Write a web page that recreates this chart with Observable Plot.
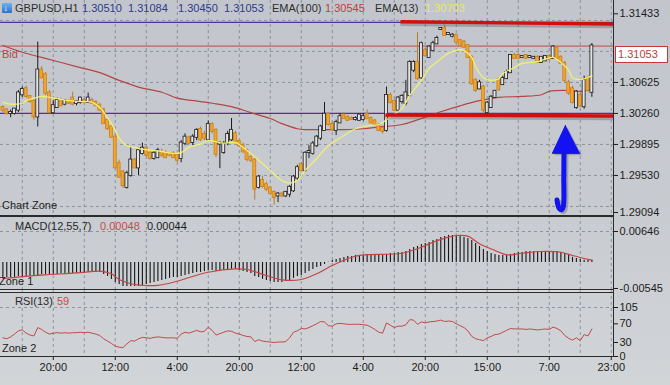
<!DOCTYPE html>
<html><head><meta charset="utf-8">
<script src="https://cdn.jsdelivr.net/npm/d3@7"></script>
<script src="https://cdn.jsdelivr.net/npm/@observablehq/plot@0.6"></script>
<style>
html,body{margin:0;padding:0;}
body{width:670px;height:385px;overflow:hidden;font-family:"Liberation Sans",Arial,sans-serif;}
#wrap{position:relative;width:670px;height:385px;overflow:hidden;background:linear-gradient(180deg,#c2c6cc 0%,#c8cbd0 55%,#d2d5d8 100%);}
.pl{position:absolute;left:0;}
.lbl{position:absolute;font-size:11px;white-space:nowrap;line-height:13px;color:#1e1e1e;}
.ln{position:absolute;background:#2b2b2b;}
</style></head><body><div id="wrap"></div>
<script>
// ---------- DATA ----------
const opens = [1.3033,1.3030,1.3026,1.3026,1.3030,1.3048,1.3055,1.3046,1.3040,1.3022,
1.3077,1.3072,1.3050,1.3027,1.3033,1.3041,1.3037,1.3040,1.3044,1.3038,
1.3039,1.3041,1.3039,1.3041,1.3039,1.3035,1.3030,1.3018,1.3010,1.2998,
1.2967,1.2957,1.2939,1.2953,1.2971,1.2962,1.2979,1.2985,1.2979,1.2973,
1.2974,1.2980,1.2980,1.2978,1.2979,1.2977,1.2973,1.2991,1.2997,1.2992,
1.2998,1.3007,1.3001,1.2995,1.3013,1.3006,1.2990,1.2980,1.2991,1.2995,
1.3002,1.2993,1.2988,1.2982,1.2974,1.2971,1.2939,1.2947,1.2942,1.2938,
1.2933,1.2929,1.2931,1.2929,1.2931,1.2935,1.2950,1.2966,1.2959,1.2980,
1.2979,1.2988,1.2997,1.3006,1.3025,1.3013,1.3006,1.3015,1.3024,1.3021,
1.3020,1.3019,1.3018,1.3019,1.3025,1.3020,1.3017,1.3012,1.3008,1.3006,
1.3047,1.3040,1.3030,1.3040,1.3038,1.3047,1.3077,1.3086,1.3068,1.3100,
1.3092,1.3100,1.3108,1.3125,1.3126,1.3119,1.3117,1.3118,1.3112,1.3110,
1.3106,1.3092,1.3065,1.3055,1.3057,1.3027,1.3033,1.3045,1.3066,1.3060,
1.3067,1.3074,1.3094,1.3094,1.3092,1.3094,1.3092,1.3091,1.3092,1.3086,
1.3088,1.3093,1.3091,1.3103,1.3092,1.3085,1.3062,1.3055,1.3033,1.3047,
1.3034,1.3067,1.30510];
const highs = [1.3035,1.3032,1.3030,1.3032,1.3053,1.3057,1.3058,1.3047,1.3042,1.3110,
1.3081,1.3074,1.3053,1.3041,1.3044,1.3044,1.3042,1.3042,1.3051,1.3041,
1.3045,1.3044,1.3050,1.3044,1.3041,1.3038,1.3032,1.3020,1.3012,1.3001,
1.2971,1.2959,1.2958,1.2986,1.2973,1.2985,1.2991,1.2987,1.2981,1.2981,
1.2985,1.2984,1.2982,1.2980,1.2981,1.2979,1.2994,1.3002,1.2999,1.3001,
1.3008,1.3010,1.3005,1.3017,1.3015,1.3008,1.2992,1.2993,1.3005,1.3020,
1.3005,1.2994,1.2991,1.2984,1.2977,1.2973,1.2953,1.2952,1.2945,1.2940,
1.2935,1.2933,1.2933,1.2934,1.2941,1.2953,1.2965,1.2968,1.2981,1.2988,
1.2993,1.3000,1.3012,1.3039,1.3027,1.3015,1.3018,1.3026,1.3027,1.3024,
1.3022,1.3022,1.3025,1.3026,1.3030,1.3022,1.3019,1.3014,1.3011,1.3057,
1.3050,1.3042,1.3046,1.3048,1.3065,1.3088,1.3088,1.3121,1.3110,1.3103,
1.3106,1.3111,1.3117,1.3127,1.3130,1.3121,1.3120,1.3119,1.3113,1.3112,
1.3107,1.3094,1.3067,1.3065,1.3059,1.3040,1.3047,1.3053,1.3068,1.3070,
1.3077,1.3095,1.3097,1.3097,1.3094,1.3095,1.3094,1.3093,1.3094,1.3093,
1.3094,1.3094,1.3106,1.3105,1.3094,1.3087,1.3065,1.3058,1.3053,1.3050,
1.3070,1.3070,1.31084];
const lows = [1.3027,1.3024,1.3021,1.3024,1.3027,1.3045,1.3044,1.3038,1.3018,1.3010,
1.3067,1.3047,1.3026,1.3026,1.3032,1.3034,1.3035,1.3037,1.3035,1.3035,
1.3037,1.3038,1.3038,1.3037,1.3034,1.3028,1.3013,1.3006,1.2997,1.2961,
1.2950,1.2938,1.2937,1.2951,1.2961,1.2953,1.2977,1.2975,1.2971,1.2971,
1.2973,1.2974,1.2973,1.2975,1.2973,1.2968,1.2968,1.2988,1.2990,1.2988,
1.2994,1.2993,1.2994,1.2993,1.3002,1.2974,1.2961,1.2978,1.2988,1.2993,
1.2991,1.2986,1.2979,1.2969,1.2968,1.2924,1.2937,1.2938,1.2934,1.2931,
1.2918,1.2921,1.2927,1.2927,1.2927,1.2933,1.2947,1.2957,1.2957,1.2973,
1.2977,1.2986,1.2994,1.3005,1.3011,1.3005,1.3000,1.3014,1.3019,1.3017,
1.3018,1.3017,1.3017,1.3017,1.3019,1.3014,1.3011,1.3005,1.3002,1.3004,
1.3037,1.3028,1.3027,1.3037,1.3035,1.3045,1.3074,1.3065,1.3066,1.3093,
1.3091,1.3099,1.3107,1.3124,1.3117,1.3118,1.3115,1.3108,1.3105,1.3103,
1.3091,1.3059,1.3051,1.3054,1.3027,1.3025,1.3032,1.3044,1.3052,1.3059,
1.3066,1.3073,1.3090,1.3090,1.3091,1.3090,1.3091,1.3090,1.3085,1.3085,
1.3087,1.3088,1.3090,1.3090,1.3084,1.3062,1.3047,1.3037,1.3031,1.3033,
1.3031,1.3051,1.30450];
const closes = [1.3030,1.3026,1.3027,1.3031,1.3050,1.3054,1.3046,1.3040,1.3022,1.3077,
1.3068,1.3050,1.3027,1.3035,1.3041,1.3035,1.3041,1.3038,1.3037,1.3040,
1.3044,1.3039,1.3044,1.3038,1.3035,1.3030,1.3014,1.3008,1.2998,1.2962,
1.2951,1.2941,1.2955,1.2971,1.2962,1.2982,1.2985,1.2977,1.2973,1.2979,
1.2982,1.2977,1.2974,1.2977,1.2974,1.2971,1.2991,1.2998,1.2991,1.2998,
1.3006,1.2995,1.2997,1.3013,1.3005,1.2978,1.2991,1.2990,1.3001,1.3006,
1.2993,1.2988,1.2981,1.2972,1.2971,1.2937,1.2951,1.2940,1.2937,1.2932,
1.2927,1.2931,1.2929,1.2933,1.2939,1.2951,1.2962,1.2959,1.2979,1.2981,
1.2990,1.2998,1.3010,1.3025,1.3013,1.3007,1.3015,1.3022,1.3020,1.3018,
1.3019,1.3020,1.3024,1.3022,1.3020,1.3015,1.3012,1.3006,1.3005,1.3047,
1.3039,1.3030,1.3044,1.3046,1.3050,1.3086,1.3086,1.3067,1.3108,1.3094,
1.3104,1.3108,1.3114,1.3126,1.3118,1.3120,1.3118,1.3110,1.3106,1.3104,
1.3092,1.3061,1.3053,1.3062,1.3030,1.3038,1.3045,1.3052,1.3054,1.3067,
1.3074,1.3094,1.3091,1.3091,1.3093,1.3091,1.3093,1.3092,1.3086,1.3092,
1.3093,1.3090,1.3104,1.3091,1.3085,1.3065,1.3050,1.3039,1.3051,1.3035,
1.3065,1.3053,1.31053];

// EMA(13) and EMA(100): [bar, value]
const ema13 = [[0,1.3039],[2,1.3037],[5,1.3038],[6,1.3041],[8,1.3044],[10,1.3046],[12,1.3045],[17,1.3041],[21,1.3040],[23,1.3039],[25,1.3033],[27,1.3021],[29,1.3006],[30,1.2997],[32,1.2988],[34,1.2986],[36,1.2984],[40,1.2982],[44,1.2979],[46,1.2980],[48,1.2986],[51,1.2990],[53,1.2994],[57,1.2991],[60,1.2992],[62,1.2986],[66,1.2971],[69,1.2959],[72,1.2947],[74,1.2944],[76,1.2947],[78,1.2959],[81,1.2973],[84,1.2988],[88,1.3000],[91,1.3008],[95,1.3012],[97,1.3013],[100,1.3022],[103,1.3032],[105,1.3047],[108,1.3065],[110,1.3079],[113,1.3090],[115,1.3097],[118,1.3101],[119,1.3100],[121,1.3092],[122,1.3081],[124,1.3068],[126,1.3065],[128,1.3067],[129,1.3073],[132,1.3080],[134,1.3085],[138,1.3087],[140,1.3090],[142,1.3092],[144,1.3086],[146,1.3077],[147,1.3068],[149,1.3066],[152,1.30703]];
const ema100 = [[0,1.3106],[5,1.3098],[10,1.3092],[15,1.3086],[20,1.3080],[25,1.3074],[30,1.3065],[35,1.3057],[41,1.3051],[45,1.3044],[51,1.3040],[54,1.3038],[59,1.3034],[64,1.3027],[69,1.3020],[72,1.3014],[76,1.3008],[78,1.3007],[83,1.3007],[88,1.3007],[93,1.3008],[97,1.3010],[103,1.3013],[108,1.3020],[113,1.3028],[118,1.3035],[123,1.3041],[128,1.3045],[134,1.3046],[139,1.3048],[141,1.3052],[146,1.3053],[149,1.3052],[152,1.30545]];

// MACD(12,55,7)
const macdHist = [-0.00314,-0.00314,-0.00314,-0.00314,-0.00293,-0.00293,-0.00293,-0.00293,-0.00293,-0.00272,
-0.00251,-0.00251,-0.00251,-0.00251,-0.00251,-0.00230,-0.00230,-0.00230,-0.00230,-0.00230,
-0.00230,-0.00230,-0.00209,-0.00209,-0.00209,-0.00209,-0.00251,-0.00293,-0.00355,-0.00418,
-0.00460,-0.00502,-0.00502,-0.00502,-0.00502,-0.00502,-0.00481,-0.00460,-0.00439,-0.00418,
-0.00397,-0.00376,-0.00355,-0.00334,-0.00314,-0.00314,-0.00293,-0.00272,-0.00251,-0.00230,
-0.00209,-0.00209,-0.00188,-0.00167,-0.00167,-0.00188,-0.00188,-0.00167,-0.00146,-0.00146,
-0.00146,-0.00167,-0.00188,-0.00209,-0.00230,-0.00293,-0.00314,-0.00355,-0.00376,-0.00397,
-0.00418,-0.00418,-0.00418,-0.00397,-0.00376,-0.00334,-0.00293,-0.00272,-0.00230,-0.00188,
-0.00146,-0.00105,-0.00084,-0.00042,0.00002,0.00042,0.00063,0.00084,0.00105,0.00125,
0.00125,0.00146,0.00146,0.00146,0.00167,0.00167,0.00167,0.00167,0.00146,0.00167,
0.00188,0.00188,0.00209,0.00209,0.00230,0.00272,0.00314,0.00334,0.00376,0.00397,
0.00418,0.00460,0.00481,0.00523,0.00543,0.00564,0.00564,0.00564,0.00543,0.00523,
0.00502,0.00460,0.00397,0.00334,0.00272,0.00230,0.00188,0.00167,0.00146,0.00146,
0.00146,0.00167,0.00188,0.00209,0.00209,0.00230,0.00230,0.00230,0.00230,0.00230,
0.00230,0.00230,0.00230,0.00230,0.00209,0.00188,0.00146,0.00105,0.00084,0.00063,
0.00046,0.00045,0.00044];
const macdSignal = [[0,-0.00335],[8,-0.00274],[12,-0.00253],[20,-0.00215],[25,-0.00184],[28,-0.00238],[30,-0.00357],[34,-0.00462],[37,-0.00483],[40,-0.00478],[44,-0.00414],[53,-0.00205],[60,-0.00134],[63,-0.00148],[68,-0.00274],[72,-0.00364],[77,-0.00357],[81,-0.00238],[85,-0.00065],[90,0.00109],[93,0.00159],[103,0.00192],[108,0.00318],[111,0.00422],[115,0.00527],[117,0.00562],[120,0.00548],[123,0.00389],[127,0.00249],[130,0.00159],[134,0.00192],[139,0.00228],[144,0.00213],[147,0.00144],[152,0.00048]];

// RSI(13)
const rsi = [40,38,42,48,55,57,50,46,44,62,
58,52,48,50,51,50,51,50,51,51,
52,51,52,50,48,45,38,33,28,22,
20,19,27,34,33,38,41,40,39,41,
42,41,40,40,40,39,48,52,50,53,
56,53,54,63,56,46,49,52,55,54,
50,48,45,43,42,32,36,33,32,31,
30,31,31,32,40,52,55,60,59,62,
66,70,75,74,66,65,70,71,70,69,
69,69,69,68,67,63,58,52,50,72,
67,62,65,65,68,79,78,69,74,72,
74,75,76,78,75,76,75,70,66,62,
55,43,38,36,34,40,43,47,48,52,
56,60,59,59,59,58,59,58,57,58,
59,58,63,60,55,45,39,35,40,34,
47,44,59];

// axes / annotations
const priceTicks = [1.31433, 1.30625, 1.30260, 1.29895, 1.29530, 1.29094];
const priceGrid = [1.31355, 1.30990, 1.30625, 1.30260, 1.29895, 1.29530, 1.29165];
const macdTicks = [0.00646, -0.00545];
const rsiTicks = [105, 70, 30, 0];
const timeBars = [13, 29, 45, 61, 77, 93, 109, 125, 141, 157];
const timeLabels = ["20:00","12:00","4:00","20:00","12:00","4:00","20:00","15:00","7:00","23:00"];
const gridBars = [5,13,21,29,37,45,53,61,69,77,85,93,101,109,117,125,133,141,149,157];
const hLines = [1.31331, 1.30260];               // purple horizontal lines
const channelX1 = [102.6, 98.7], channelY1 = [1.31339, 1.30242];
const channelX2 = [157.6, 157.6], channelY2 = [1.31313, 1.30230];
const arrowShaft = [[144.8,1.2982],[144.75,1.2950],[144.7,1.2919],[144.3,1.2913],[143.6,1.2914],[143.0,1.2924]];
const arrowHead = [[145.2,1.3012],[141.8,1.2979],[148.9,1.2979]];

// ---------- BUILD ----------
const candles = closes.map((c, i) => ({i, o: opens[i], h: highs[i], l: lows[i], c, up: c >= opens[i]}));
const histData = macdHist.map((v, i) => ({i, v}));
const rsiData = rsi.map((v, i) => ({i, v}));
const channels = channelX1.map((x, k) => ({x1: x, y1: channelY1[k], x2: channelX2[k], y2: channelY2[k]}));
const labelOf = new Map(timeBars.map((b, k) => [b, timeLabels[k]]));

const FONT = "'Liberation Sans', Arial, sans-serif";
const xOpt = {domain: [-0.62, 157.58], range: [0, 613], axis: null};
const baseStyle = {background: "transparent", fontFamily: FONT, fontSize: "11px", color: "#1c1c1c", overflow: "visible"};
const gridStyle = {stroke: "#7d858f", strokeOpacity: 1, strokeDasharray: "3,3", strokeWidth: 0.8};
const BLUE = "#1212f2";

const main = Plot.plot({
  width: 670, height: 216, marginLeft: 0, marginRight: 57, marginTop: 0, marginBottom: 0,
  style: baseStyle,
  x: xOpt,
  y: {domain: [1.29094, 1.31433], range: [212, 13.3], axis: null},
  marks: [
    Plot.gridX(gridBars, gridStyle),
    Plot.gridY(priceGrid, gridStyle),
    Plot.ruleY(hLines, {stroke: "#5a2d9e", strokeWidth: 1.2}),
    Plot.ruleY([closes[closes.length - 1]], {stroke: "#c24848", strokeWidth: 1}),
    Plot.line(ema100, {x: d => d[0], y: d => d[1], stroke: "#b54545", strokeWidth: 1.2, curve: "catmull-rom"}),
    Plot.ruleX(candles, {x: "i", y1: "l", y2: "h", stroke: d => d.up ? "#1b1b1b" : "#bb7a2a", strokeWidth: 1}),
    Plot.rect(candles, {x1: d => d.i - 0.38, x2: d => d.i + 0.38, y1: "o", y2: "c",
      fill: d => d.up ? "#e4e4e4" : "#f1a52c", stroke: d => d.up ? "#1b1b1b" : "#c88020",
      strokeWidth: 0.8, insetTop: -0.6, insetBottom: -0.6}),
    Plot.line(ema13, {x: d => d[0], y: d => d[1], stroke: "#f0f072", strokeWidth: 1.3, curve: "catmull-rom"}),
    Plot.link(channels, {x1: "x1", y1: "y1", x2: "x2", y2: "y2", stroke: "#555", strokeOpacity: 0.35, strokeWidth: 3.5, dy: 2.5}),
    Plot.link(channels, {x1: "x1", y1: "y1", x2: "x2", y2: "y2", stroke: "#d20f0f", strokeWidth: 3.4}),
    Plot.line(arrowShaft, {x: d => d[0], y: d => d[1], stroke: "#444", strokeOpacity: 0.3, strokeWidth: 5, dx: 2, dy: 2, curve: "catmull-rom", strokeLinecap: "round"}),
    Plot.line(arrowHead, {x: d => d[0], y: d => d[1], fill: "#444", fillOpacity: 0.3, stroke: "none", dx: 2, dy: 2}),
    Plot.line(arrowShaft, {x: d => d[0], y: d => d[1], stroke: BLUE, strokeWidth: 5, curve: "catmull-rom", strokeLinecap: "round", strokeLinejoin: "round"}),
    Plot.line(arrowHead, {x: d => d[0], y: d => d[1], fill: BLUE, stroke: BLUE, strokeWidth: 1}),
    Plot.axisY(priceTicks, {anchor: "right", label: null, tickSize: 4, tickPadding: 2, tickFormat: d => d.toFixed(5), fontSize: 11})
  ]
});

const macd = Plot.plot({
  width: 670, height: 75, marginLeft: 0, marginRight: 57, marginTop: 0, marginBottom: 0,
  style: baseStyle,
  x: xOpt,
  y: {domain: [-0.00545, 0.00646], range: [73, 16], axis: null},
  marks: [
    Plot.gridX(gridBars, gridStyle),
    Plot.gridY([0.00646], gridStyle),
    Plot.ruleX(histData, {x: "i", y1: 0, y2: "v", stroke: "#151515", strokeWidth: 1.1}),
    Plot.line(macdSignal, {x: d => d[0], y: d => d[1], stroke: "#c44545", strokeWidth: 1.2, curve: "catmull-rom"}),
    Plot.axisY(macdTicks, {anchor: "right", label: null, tickSize: 4, tickPadding: 2, tickFormat: d => d.toFixed(5), fontSize: 11})
  ]
});

const rsiPlot = Plot.plot({
  width: 670, height: 95, marginLeft: 0, marginRight: 57, marginTop: 0, marginBottom: 29,
  style: baseStyle,
  x: xOpt,
  y: {domain: [0, 105], range: [66, 17], axis: null},
  marks: [
    Plot.gridX(gridBars, gridStyle),
    Plot.gridY([105], gridStyle),
    Plot.line(rsiData, {x: "i", y: "v", stroke: "#c44848", strokeWidth: 1}),
    Plot.axisY(rsiTicks, {anchor: "right", label: null, tickSize: 4, tickPadding: 2, fontSize: 11}),
    Plot.axisX(timeBars, {anchor: "bottom", label: null, tickSize: 4, tickPadding: 3, tickFormat: d => labelOf.get(d), fontSize: 11})
  ]
});

const wrap = document.getElementById("wrap");
function place(el, top) { el.classList.add("pl"); el.style.top = top + "px"; wrap.appendChild(el); }
function line(l, t, w, h, c) { const d = document.createElement("div"); d.className = "ln"; Object.assign(d.style, {left: l + "px", top: t + "px", width: w + "px", height: h + "px"}); if (c) d.style.background = c; wrap.appendChild(d); }
const band = document.createElement("div");
Object.assign(band.style, {position: "absolute", left: "0px", top: "289px", width: "613px", height: "3px", background: "#d7d9dc"});
wrap.appendChild(band);
place(main, 0);
place(macd, 215);
place(rsiPlot, 290);
line(0, 215, 613, 1.5);
line(0, 288.5, 613, 1);
line(0, 291.5, 613, 1);
line(0, 355.5, 613, 1);
line(612.5, 0, 1, 357);

function label(text, left, top, color, extra) {
  const d = document.createElement("div"); d.className = "lbl"; d.textContent = text;
  d.style.left = left + "px"; d.style.top = top + "px"; if (color) d.style.color = color;
  if (extra) Object.assign(d.style, extra);
  wrap.appendChild(d); return d;
}
const last = closes.length - 1;
const f5 = v => v.toFixed(5);
// header
const icon = document.createElement("div");
Object.assign(icon.style, {position: "absolute", left: "2px", top: "3px", width: "10px", height: "10px", background: "linear-gradient(#6fb2ef,#2a72c8)", borderRadius: "1px"});
wrap.appendChild(icon);
label("\u2193", 3.5, 1.5, "#ffffff", {fontSize: "9px", fontWeight: "bold"});
label("GBPUSD,H1", 15, 2, "#2e2e2e");
label(f5(opens[last]), 82, 2, "#2d3b8e");
label(f5(highs[last]), 128, 2, "#2d3b8e");
label(f5(lows[last]), 178, 2, "#2d3b8e");
label(f5(closes[last]), 224, 2, "#2d3b8e");
label("EMA(100)", 272, 2, "#2e2e2e");
label(f5(ema100[ema100.length - 1][1]), 325, 2, "#c23c3c");
label("EMA(13)", 375, 2, "#2e2e2e");
label(f5(ema13[ema13.length - 1][1]), 425, 2, "#e8e866");
// bid label + price box
const yMain = main.scale("y");
const yBid = yMain.apply(closes[last]);
label("Bid", 2, yBid + 2, "#c44444");
label(f5(closes[last]), 615, yBid, "#c43a3a", {background: "#ffffff", border: "1px solid #c43a3a", padding: "1px 2px 1px 2px", width: "47px", height: "13px"});
// zone labels
label("Chart Zone", 2, 198.5, "#1e1e1e");
label("MACD(12,55,7)", 15, 219.5, "#2a2a2a");
label(macdSignal[macdSignal.length - 1][1].toFixed(5), 100, 219.5, "#c74a4a");
label(macdHist[last].toFixed(5), 147, 219.5, "#1e1e1e");
label("Zone 1", -1, 274.5, "#1e1e1e");
label("RSI(13)", 15, 294.5, "#2a2a2a");
label(String(rsi[last]), 57, 294.5, "#c74a4a");
label("Zone 2", 2, 341.5, "#1e1e1e");
</script></body></html>
